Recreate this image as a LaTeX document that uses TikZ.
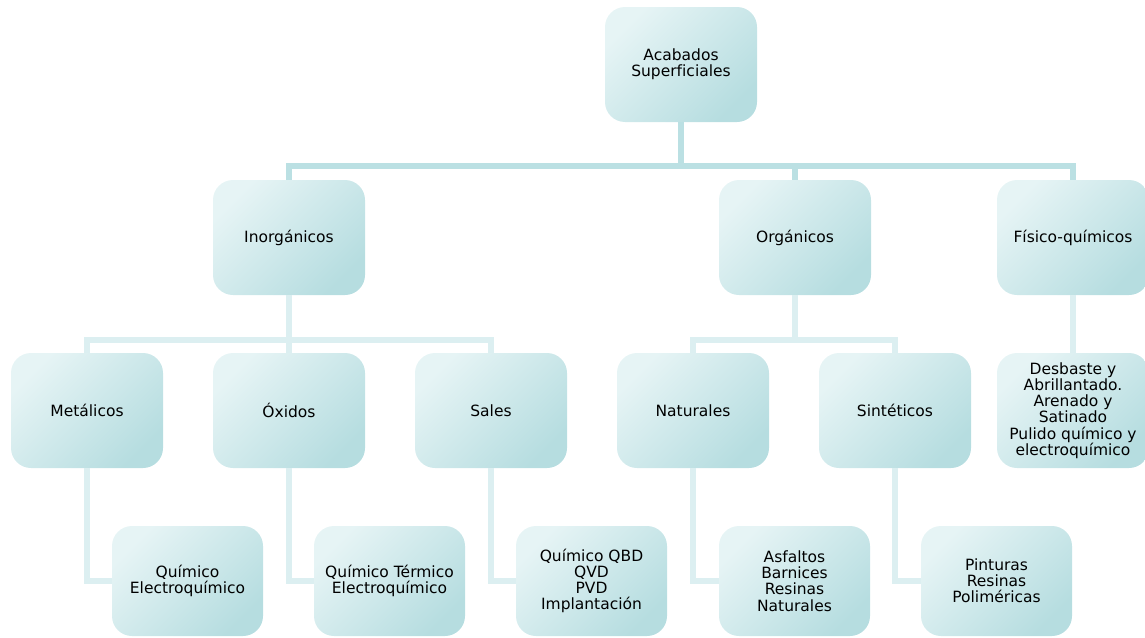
\documentclass[tikz,border=0pt]{standalone}
\usepackage{fontspec}
\setmainfont[Ligatures=NoCommon]{DejaVu Sans}
\definecolor{boxlight}{HTML}{E6F4F5}
\definecolor{boxdark}{HTML}{B6DDE0}
\definecolor{linedark}{HTML}{BBE0E3}
\definecolor{linepale}{HTML}{DCEFF1}
\tikzset{
  box/.style={shade, top color=boxlight, bottom color=boxdark, shading angle=45,
    rounded corners=20pt, minimum width=152pt, minimum height=115pt, inner sep=0pt,
    align=center, font=\fontsize{15.5}{16.2}\selectfont},
  leaf/.style={box, minimum width=151pt, minimum height=110pt},
  darkline/.style={draw=linedark, line width=6pt, line join=miter},
  paleline/.style={draw=linepale, line width=6pt, line join=miter}
}
\begin{document}
\begin{tikzpicture}[x=1pt, y=-1pt]
		\useasboundingbox (0,0) rectangle (1145,637);
		\coordinate (bus0) at (0,166);
		\coordinate (bus1) at (0,340);
		% cajas
		\node[box] (acab) at (681,64.5){Acabados\\Superficiales};
		\node[box] (inorg) at (289,237.5){Inorgánicos};
		\node[box] (org) at (795,237.5){Orgánicos};
		\node[box] (fisq) at (1073,237.5){Físico-químicos};
		\node[box] (met) at (87,410.5){Metálicos};
		\node[box] (oxi) at (289,410.5){Óxidos};
		\node[box] (sal) at (491,410.5){Sales};
		\node[box] (nat) at (693,410.5){Naturales};
		\node[box] (sint) at (895,410.5){Sintéticos};
		\node[box] (desb) at (1073,410.5){Desbaste y\\Abrillantado.\\Arenado y\\Satinado\\Pulido químico y\\electroquímico};
		\node[leaf] (qme) at (187.5,581){Químico\\Electroquímico};
		\node[leaf] (qte) at (389.5,581){Químico Térmico\\Electroquímico};
		\node[leaf] (qbd) at (591.5,581){Químico QBD\\QVD\\PVD\\Implantación};
		\node[leaf] (asf) at (794.5,581){Asfaltos\\Barnices\\Resinas\\Naturales};
		\node[leaf] (pint) at (996.5,581){Pinturas\\Resinas\\Poliméricas};
		% lineas
		\draw[darkline] (acab.south) -- (acab.south |- bus0);
		\draw[darkline] (inorg.north) -- (inorg.north |- bus0) -| (fisq.north);
		\draw[darkline] (org.north) -- (org.north |- bus0);
		\draw[paleline] (inorg.south) -- (inorg.south |- bus1);
		\draw[paleline] (met.north) |- (bus1 -| sal.north) -- (sal.north);
		\draw[paleline] (oxi.north) -- (oxi.north |- bus1);
		\draw[paleline] (org.south) -- (org.south |- bus1);
		\draw[paleline] (nat.north) |- (bus1 -| sint.north) -- (sint.north);
		\draw[paleline] (fisq.south) -- (desb.north);
		\draw[paleline] (met.south) |- (qme.west);
		\draw[paleline] (oxi.south) |- (qte.west);
		\draw[paleline] (sal.south) |- (qbd.west);
		\draw[paleline] (nat.south) |- (asf.west);
		\draw[paleline] (sint.south) |- (pint.west);
		\end{tikzpicture}
\end{document}
